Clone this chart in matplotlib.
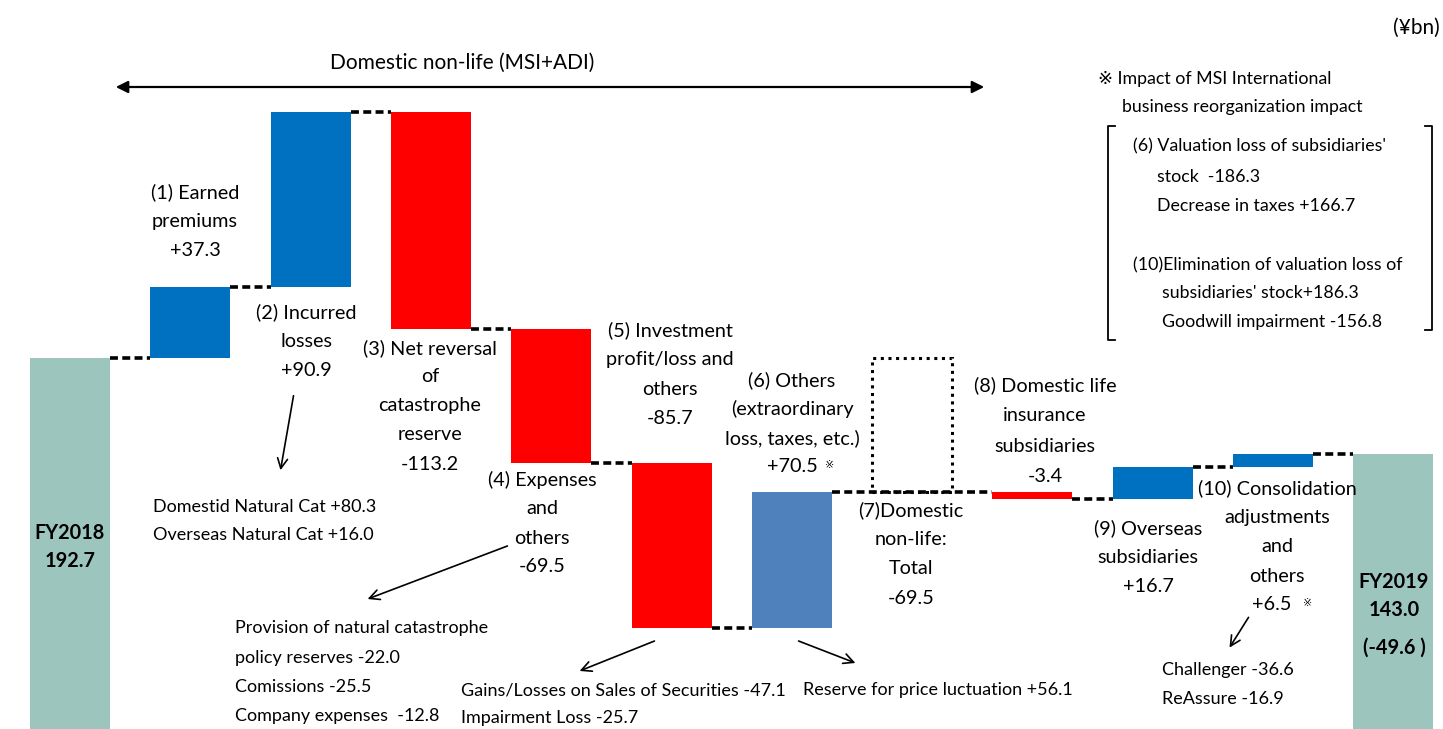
import numpy as np
import matplotlib.pyplot as plt
from matplotlib.patches import Rectangle

plt.rcParams['font.family'] = ['Lato', 'DejaVu Sans']

# data (¥bn)
start_label = ["FY2018", "192.7"]
start_value = 192.7
end_label = ["FY2019", "143.0"]
end_change = "(-49.6 )"
end_value = 143.0
step_names = ["(1)", "(2)", "(3)", "(4)", "(5)", "(6)", "(7)", "(8)", "(9)", "(10)"]
step_deltas = [37.3, 90.9, -113.2, -69.5, -85.7, 70.5, None, -3.4, 16.7, 6.5]
step_colors = ["#0070C0", "#0070C0", "#FF0000", "#FF0000", "#FF0000", "#4F81BD",
               None, "#FF0000", "#0070C0", "#0070C0"]
total_color = "#9CC5BE"

W, H = 1443, 729
fig = plt.figure(figsize=(W / 100, H / 100), dpi=100)
ax = fig.add_axes([0, 0, 1, 1])
ax.set_xlim(-0.582, 11.413)
ax.set_ylim(0, 379)
ax.axis("off")

bw = 0.665
n = len(step_deltas)
x_end = n + 1

# totals
ax.bar(0, start_value, width=bw, color=total_color)
ax.bar(x_end, end_value, width=bw, color=total_color)

# steps
level = start_value
levels = []  # level after each step
for i, d in enumerate(step_deltas):
    x = i + 1
    if d is None:
        # domestic non-life total shown as dotted box
        sub_total = sum(step_deltas[:i])
        ax.add_patch(Rectangle((x - bw / 2, start_value + sub_total), bw, -sub_total,
                               fill=False, ls=(0, (1, 1.5)), lw=2.2, ec="black"))
        levels.append(level)
        continue
    bottom = level if d > 0 else level + d
    ax.bar(x, abs(d), bottom=bottom, width=bw, color=step_colors[i])
    level += d
    levels.append(level)

# dashed connectors
prev_x, prev_level = 0, start_value
for i, d in enumerate(step_deltas):
    x = i + 1
    if d is None:
        continue
    lv = prev_level
    ax.plot([prev_x + bw / 2, x - bw / 2], [lv, lv], color="black", lw=2.6,
            ls=(0, (2.2, 1.2)), solid_capstyle="butt")
    prev_x, prev_level = x, levels[i]
ax.plot([prev_x + bw / 2, x_end - bw / 2], [prev_level, prev_level], color="black",
        lw=2.6, ls=(0, (2.2, 1.2)))


def px(x, y):
    return x / W, 1 - y / H


def txt(x, y, s, size=14.3, ha="center", **kw):
    fx, fy = px(x, y)
    fig.text(fx, fy, s, fontsize=size, ha=ha, va="center", **kw)


def lines(x, y0, rows, dy=29.3, **kw):
    for k, r in enumerate(rows):
        if r:
            txt(x, y0 + k * dy, r, **kw)


def arrow(x0, y0, x1, y1):
    fig.add_artist(plt.Annotation("", xy=px(x1, y1), xytext=px(x0, y0),
                                  xycoords="figure fraction", textcoords="figure fraction",
                                  arrowprops=dict(arrowstyle="->", lw=1.2, color="black",
                                                  mutation_scale=18)))


# header
txt(1440, 28, "(¥bn)", size=15, ha="right")
txt(462, 63, "Domestic non-life (MSI+ADI)", size=15)
fig.add_artist(plt.Annotation("", xy=px(113, 87), xytext=px(987, 87),
                              xycoords="figure fraction", textcoords="figure fraction",
                              arrowprops=dict(arrowstyle="<|-|>", lw=1.6, color="black",
                                              mutation_scale=18)))

# step labels
lines(195, 192, ["(1) Earned", "premiums", "+37.3"])
lines(306, 312, ["(2) Incurred", "losses", "+90.9"])
lines(430, 348, ["(3) Net reversal", "of", "catastrophe", "reserve", "-113.2"], dy=29)
lines(542, 480, ["(4) Expenses", "and", "others", "-69.5"], dy=29)
lines(670, 330, ["(5) Investment", "profit/loss and", "others", "-85.7"], dy=29.5)
lines(792, 380, ["(6) Others", "(extraordinary", "loss, taxes, etc.)", "+70.5"], dy=29)
txt(830, 465, "※", size=8)
lines(911, 510, ["(7)Domestic", "non-life:", "Total", "-69.5"], dy=29.5)
lines(1045, 385, ["(8) Domestic life", "insurance", "subsidiaries", "-3.4"], dy=30.5)
lines(1148, 528, ["(9) Overseas", "subsidiaries", "+16.7"], dy=29.5)
lines(1277, 488, ["(10) Consolidation", "adjustments", "and", "others"], dy=29.5)
txt(1272, 605, "+6.5")
txt(1308, 602, "※", size=8)

# totals labels
lines(70, 533, start_label, dy=28, weight="bold")
lines(1394, 582, end_label, dy=28, weight="bold")
txt(1394, 648, end_change, weight="bold")

# details
lines(153, 507, ["Domestid Natural Cat +80.3", "Overseas Natural Cat +16.0"],
      dy=28.5, size=13, ha="left")
lines(235, 628, ["Provision of natural catastrophe", "policy reserves -22.0",
                 "Comissions -25.5", "Company expenses  -12.8"], dy=29.5, size=13, ha="left")
lines(461, 690, ["Gains/Losses on Sales of Securities -47.1", "Impairment Loss -25.7"],
      dy=28.5, size=13, ha="left")
txt(803, 690, "Reserve for price luctuation +56.1", size=13, ha="left")
lines(1162, 670, ["Challenger -36.6", "ReAssure -16.9"], dy=29, size=13, ha="left")

arrow(294, 393, 280, 473)
arrow(510, 545, 365, 600)
arrow(657, 640, 577, 672)
arrow(796, 640, 858, 664)
arrow(1250, 615, 1228, 650)

# note box
txt(1098, 79, "※ Impact of MSI International", size=12.8, ha="left")
txt(1122, 107, "business reorganization impact", size=12.8, ha="left")
txt(1133, 146, "(6) Valuation loss of subsidiaries'", size=12.8, ha="left")
txt(1157, 177, "stock  -186.3", size=12.8, ha="left")
txt(1157, 206, "Decrease in taxes +166.7", size=12.8, ha="left")
txt(1133, 265, "(10)Elimination of valuation loss of", size=12.8, ha="left")
txt(1162, 293, "subsidiaries' stock+186.3", size=12.8, ha="left")
txt(1162, 322, "Goodwill impairment -156.8", size=12.8, ha="left")
for xs, ys in [((1115, 1108, 1108, 1115), (126, 126, 340, 340)),
               ((1425, 1432, 1432, 1425), (126, 126, 330, 330))]:
    fig.add_artist(plt.Line2D([v / W for v in xs], [1 - v / H for v in ys],
                              color="black", lw=1.3))

fig.savefig("out.png", dpi=100)
